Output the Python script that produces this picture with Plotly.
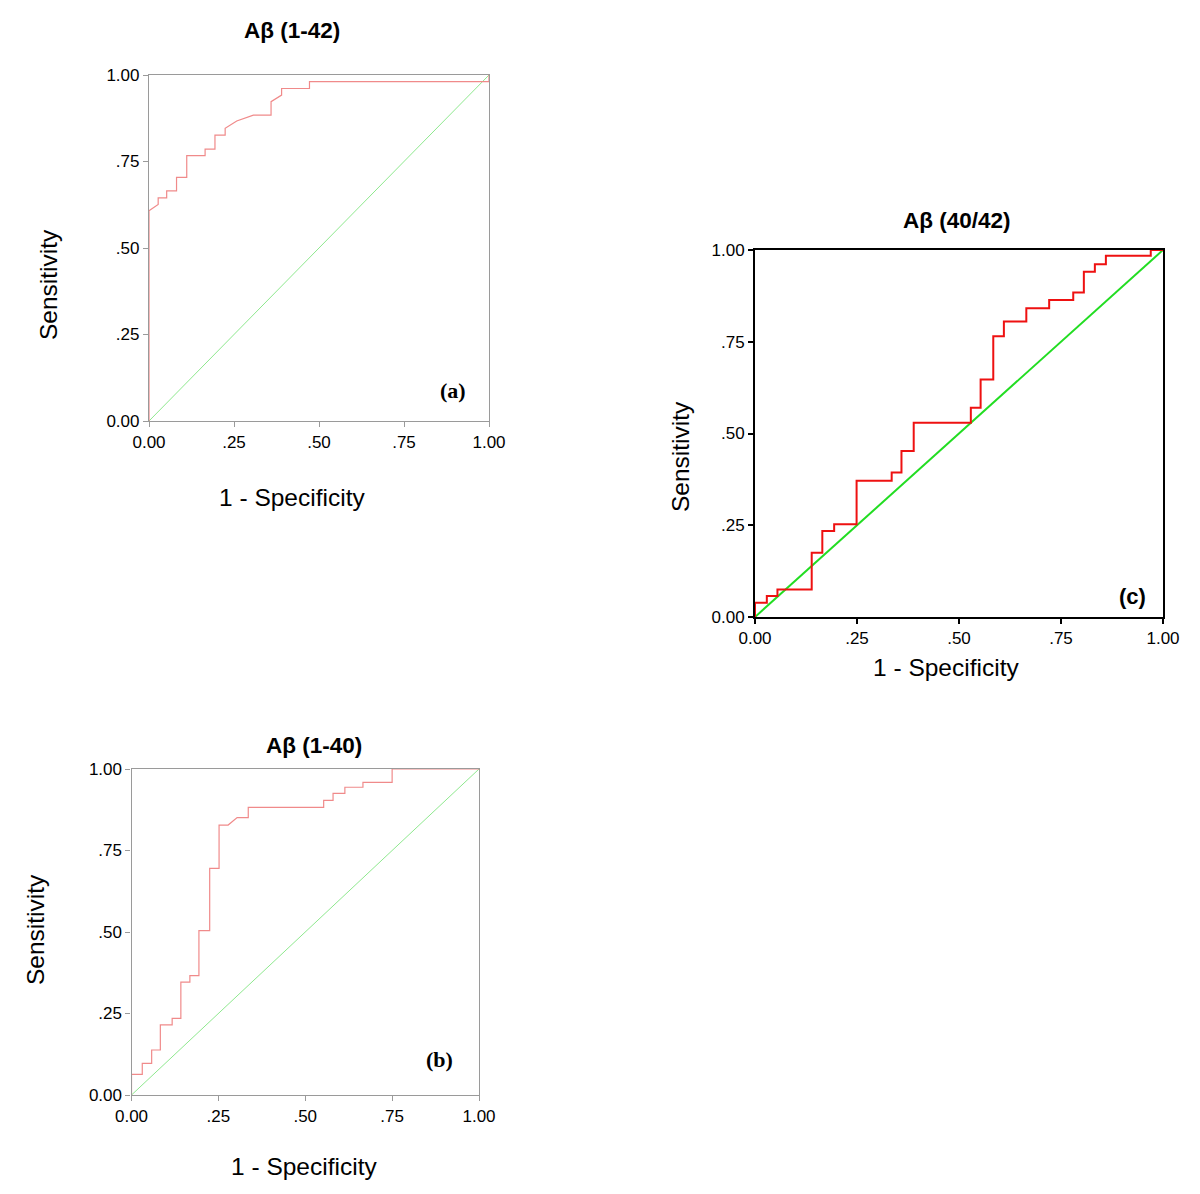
import plotly.graph_objects as go

# ---- data ----
tick_vals = [0, 0.25, 0.5, 0.75, 1.0]
tick_text = ["0.00", ".25", ".50", ".75", "1.00"]

# Panel (a): Aβ (1-42)
a_fpr = [0, 0, 0.027, 0.027, 0.052, 0.052, 0.081, 0.081, 0.111, 0.111, 0.165, 0.165,
         0.194, 0.194, 0.224, 0.224, 0.258, 0.307, 0.359, 0.359, 0.390, 0.390, 0.472,
         0.472, 1.0, 1.0]
a_tpr = [0, 0.608, 0.626, 0.645, 0.645, 0.665, 0.665, 0.704, 0.704, 0.767, 0.767, 0.786,
         0.786, 0.826, 0.826, 0.846, 0.867, 0.884, 0.884, 0.923, 0.942, 0.961, 0.961,
         0.981, 0.981, 1.0]

# Panel (b): Aβ (1-40)
b_fpr = [0, 0, 0.031, 0.031, 0.058, 0.058, 0.083, 0.083, 0.117, 0.117, 0.142, 0.142,
         0.168, 0.168, 0.194, 0.194, 0.225, 0.225, 0.252, 0.252, 0.278, 0.304, 0.336,
         0.336, 0.553, 0.553, 0.580, 0.580, 0.614, 0.614, 0.666, 0.666, 0.750, 0.750, 1.0]
b_tpr = [0, 0.063, 0.063, 0.097, 0.097, 0.138, 0.138, 0.215, 0.215, 0.235, 0.235, 0.346,
         0.346, 0.366, 0.366, 0.504, 0.504, 0.695, 0.695, 0.828, 0.828, 0.851, 0.851,
         0.882, 0.882, 0.904, 0.904, 0.925, 0.925, 0.944, 0.944, 0.959, 0.959, 1.0, 1.0]

# Panel (c): Aβ (40/42) -- step points (horizontal then vertical)
c_fpr = [0, 0, 0.029, 0.055, 0.139, 0.165, 0.194, 0.249, 0.335, 0.359, 0.389, 0.529,
         0.553, 0.584, 0.610, 0.665, 0.721, 0.780, 0.806, 0.833, 0.860, 0.970, 1.0]
c_tpr = [0, 0.039, 0.057, 0.075, 0.175, 0.234, 0.253, 0.371, 0.394, 0.452, 0.529, 0.570,
         0.647, 0.765, 0.805, 0.841, 0.864, 0.884, 0.941, 0.961, 0.984, 1.0, 1.0]

ref_line = [0, 1]

W, H = 1200, 1194
OFF = 8  # page body margin
def px(x): return (x - OFF) / W
def py(y): return 1 - (y - OFF) / H

FONT = "Liberation Sans, Arial, sans-serif"

fig = go.Figure()

# (a)
fig.add_trace(go.Scatter(x=ref_line, y=ref_line, mode="lines", line=dict(color="#8ee88e", width=1),
                         xaxis="x", yaxis="y", hoverinfo="skip"))
fig.add_trace(go.Scatter(x=a_fpr, y=a_tpr, mode="lines", line=dict(color="#f08a8a", width=1.2),
                         xaxis="x", yaxis="y"))
# (b)
fig.add_trace(go.Scatter(x=ref_line, y=ref_line, mode="lines", line=dict(color="#8ee88e", width=1),
                         xaxis="x2", yaxis="y2", hoverinfo="skip"))
fig.add_trace(go.Scatter(x=b_fpr, y=b_tpr, mode="lines", line=dict(color="#f08a8a", width=1.2),
                         xaxis="x2", yaxis="y2"))
# (c)
fig.add_trace(go.Scatter(x=ref_line, y=ref_line, mode="lines", line=dict(color="#22dd22", width=2),
                         xaxis="x3", yaxis="y3", hoverinfo="skip"))
fig.add_trace(go.Scatter(x=c_fpr, y=c_tpr, mode="lines", line=dict(color="#ee1111", width=2, shape="hv"),
                         xaxis="x3", yaxis="y3"))

def axis(domain, anchor, color, lw):
    return dict(domain=domain, anchor=anchor, range=[0, 1], tickvals=tick_vals, ticktext=tick_text,
                showgrid=False, zeroline=False, showline=True, linecolor=color, linewidth=lw,
                mirror=True, ticks="outside", ticklen=5, tickcolor=color, tickwidth=lw,
                automargin=False,
                tickfont=dict(family=FONT, size=17, color="black"), fixedrange=True)

# pixel boxes
A = (149, 489, 75, 421)
B = (131.5, 479, 769, 1095)
C = (755, 1163, 250, 617)

fig.update_layout(
    width=W, height=H, margin=dict(l=0, r=0, t=0, b=0, pad=0, autoexpand=False),
    paper_bgcolor="white", plot_bgcolor="white", showlegend=False,
    xaxis=axis([px(A[0]), px(A[1])], "y", "#9a9a9a", 1.2),
    yaxis=axis([py(A[3]), py(A[2])], "x", "#9a9a9a", 1.2),
    xaxis2=axis([px(B[0]), px(B[1])], "y2", "#9a9a9a", 1.2),
    yaxis2=axis([py(B[3]), py(B[2])], "x2", "#9a9a9a", 1.2),
    xaxis3=axis([px(C[0]), px(C[1])], "y3", "black", 2),
    yaxis3=axis([py(C[3]), py(C[2])], "x3", "black", 2),
)

def ann(text, x, y, size, bold=False, family=FONT, angle=0):
    fig.add_annotation(text=f"<b>{text}</b>" if bold else text, x=px(x), y=py(y),
                       xref="paper", yref="paper", showarrow=False, textangle=angle,
                       xanchor="center", yanchor="middle",
                       font=dict(family=family, size=size, color="black"))

# titles
ann("Aβ (1-42)", 292, 30, 22.5, bold=True)
ann("Aβ (1-40)", 314, 745, 22.5, bold=True)
ann("Aβ (40/42)", 957, 221, 22.5, bold=True)
# axis titles
ann("1 - Specificity", 292, 498, 24.5)
ann("1 - Specificity", 304, 1166, 24.5)
ann("1 - Specificity", 946, 668, 24.5)
ann("Sensitivity", 48, 285, 24.5, angle=-90)
ann("Sensitivity", 35, 930, 24.5, angle=-90)
ann("Sensitivity", 680, 457, 24.5, angle=-90)
# panel letters
SERIF = "Liberation Serif, Times New Roman, serif"
ann("(a)", 453, 391, 22, bold=True, family=SERIF)
ann("(b)", 439, 1059, 22, bold=True, family=SERIF)
ann("(c)", 1132, 596, 22, bold=True)

fig.write_html("out.html")
